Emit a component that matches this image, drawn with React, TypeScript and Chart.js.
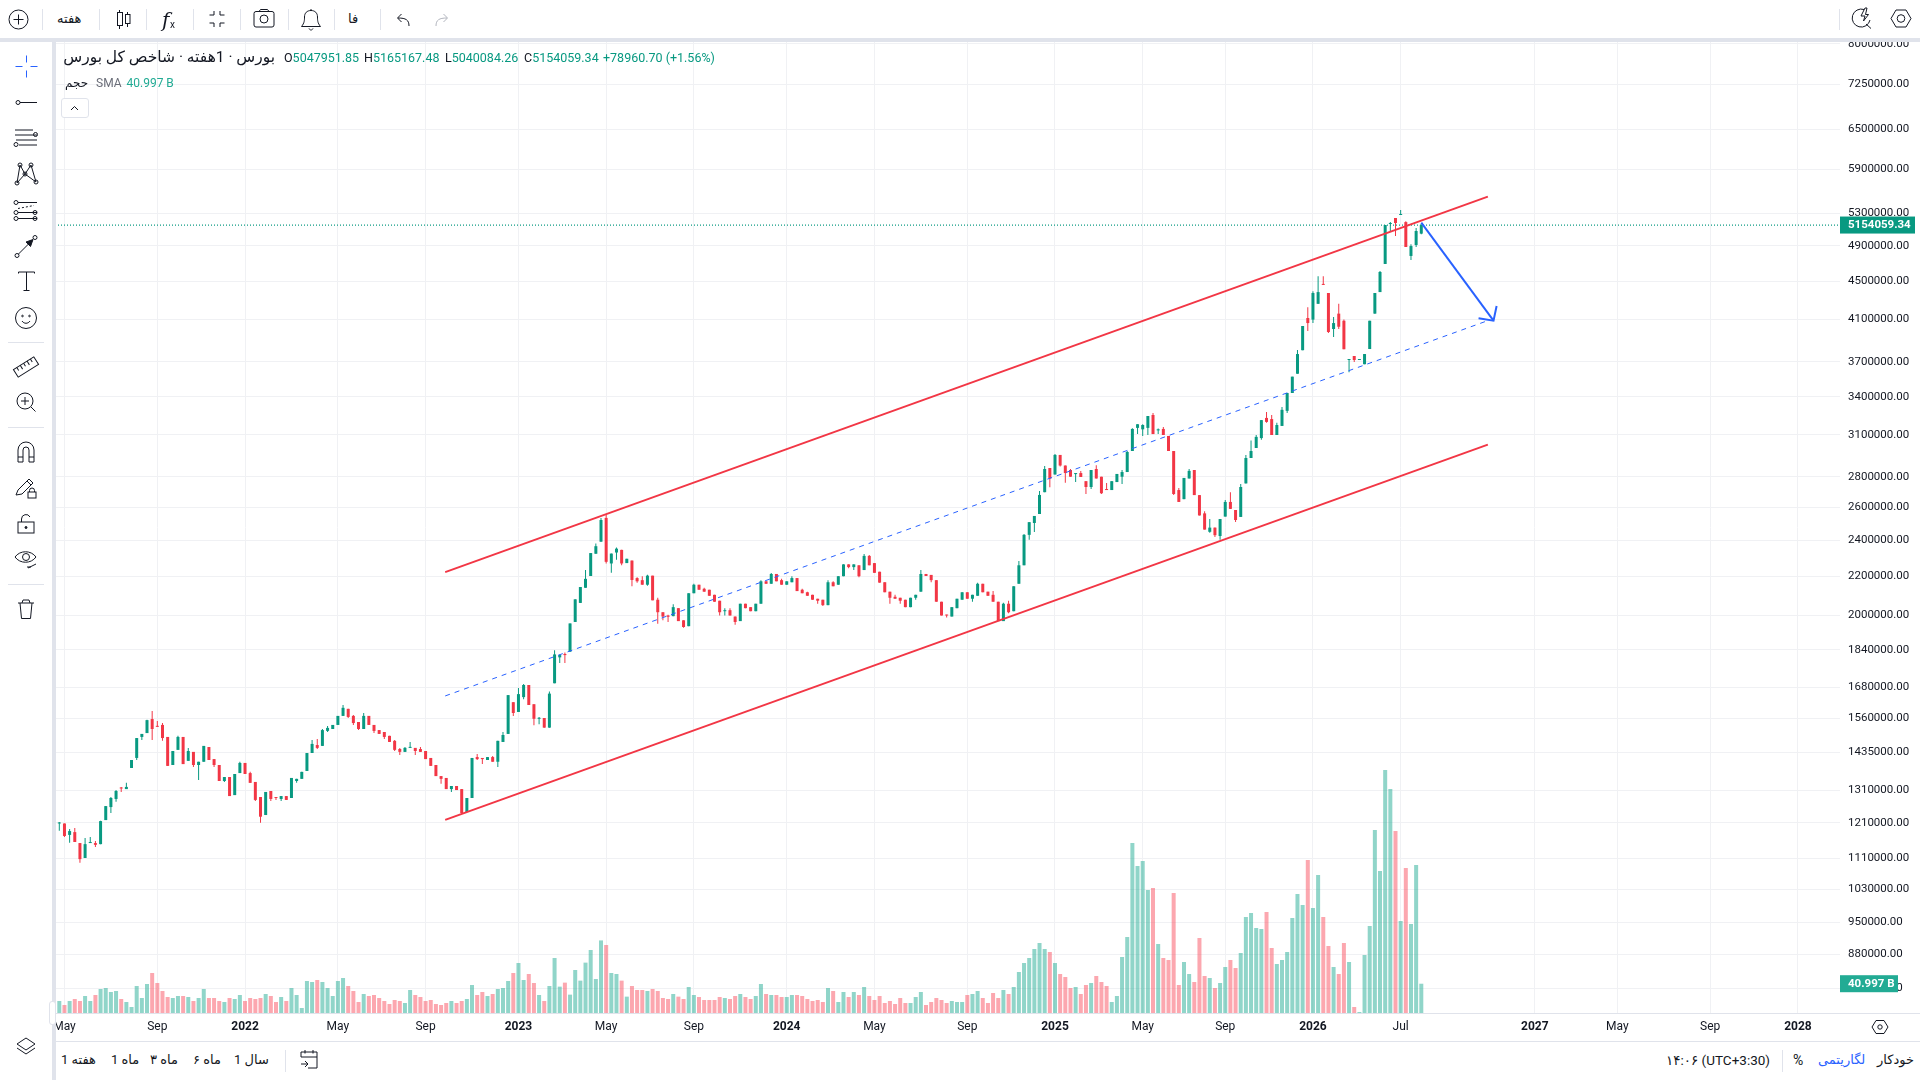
import { useEffect, useRef } from "react";
import Chart from "chart.js/auto";

// ─── Data ─────────────────────────────────────────────────────────────────────
// weekly candles in thousands of index points
const opens = [
  1208,1208,1175,1183,1152,1111,1152,1152,1149,1218,
  1257,1282,1318,1313,1382,1416,1490,1504,1556,1530,
  1534,1490,1392,1444,1490,1406,1437,1392,1403,1454,
  1412,1392,1339,1352,1294,1365,1399,1365,1336,1288,
  1233,1307,1288,1282,1291,1285,1339,1346,1372,1433,
  1461,1458,1512,1519,1534,1568,1595,1568,1545,1519,
  1568,1534,1515,1508,1494,1476,1447,1437,1451,1451,
  1447,1440,1416,1392,1355,1349,1313,1323,1313,1242,
  1285,1419,1416,1409,1419,1403,1472,1501,1621,1583,
  1641,1690,1613,1557,1560,1524,1697,1807,1822,1832,
  1969,2062,2139,2201,2323,2392,2534,2269,2330,2345,
  2271,2285,2190,2179,2155,2203,2078,2016,2000,1997,
  2036,1977,1949,2111,2155,2134,2129,2103,2073,2021,
  2026,1995,1973,2058,2041,2021,2058,2173,2160,2212,
  2179,2155,2168,2190,2129,2116,2103,2083,2078,2051,
  2168,2155,2200,2264,2249,2259,2233,2311,2271,2224,
  2168,2119,2093,2088,2078,2041,2088,2119,2212,2207,
  2179,2068,2004,1995,2036,2078,2116,2083,2098,2160,
  2119,2103,2068,1973,2058,2021,2160,2259,2432,2503,
  2558,2697,2860,2815,2952,2877,2846,2818,2825,2770,
  2731,2853,2800,2718,2711,2764,2800,2832,2980,3152,
  3141,3152,3252,3133,3144,3091,2980,2711,2652,2788,
  2846,2678,2562,2450,2475,2425,2542,2634,2583,2540,
  2755,2930,3002,3075,3229,3220,3098,3167,3285,3430,
  3594,3805,4114,4098,4258,4468,4371,4006,4158,4087,
  3716,3752,3716,3678,3816,4158,4381,4690,5167,5243,
  5281,5191,4782,4911,5047.95185,
];
const highs = [
  1212,1208,1192,1195,1152,1166,1169,1158,1216,1260,
  1288,1310,1320,1333,1409,1486,1501,1553,1587,1549,
  1541,1490,1440,1494,1490,1451,1437,1403,1458,1454,
  1412,1392,1352,1352,1362,1403,1399,1369,1336,1288,
  1304,1307,1288,1291,1291,1349,1346,1369,1433,1479,
  1483,1519,1530,1534,1568,1610,1595,1571,1545,1579,
  1568,1534,1515,1508,1494,1479,1451,1454,1472,1451,
  1454,1440,1416,1392,1355,1349,1323,1323,1313,1285,
  1416,1430,1416,1419,1423,1476,1508,1649,1621,1678,
  1694,1690,1613,1564,1560,1664,1838,1820,1828,1962,
  2080,2143,2234,2327,2382,2534,2553,2324,2358,2345,
  2295,2285,2194,2200,2208,2203,2088,2016,2004,2056,
  2036,1977,2111,2160,2155,2139,2129,2103,2073,2036,
  2036,1995,2058,2058,2041,2058,2179,2173,2217,2212,
  2186,2173,2200,2190,2134,2119,2103,2083,2078,2179,
  2173,2200,2264,2264,2264,2259,2321,2316,2271,2224,
  2168,2119,2103,2088,2078,2088,2103,2234,2212,2207,
  2179,2068,2004,2041,2083,2116,2116,2103,2166,2160,
  2119,2122,2068,2063,2073,2147,2282,2437,2508,2546,
  2705,2873,2860,2958,2952,2877,2853,2825,2840,2770,
  2846,2879,2800,2757,2770,2819,2846,2980,3150,3180,
  3180,3244,3267,3148,3159,3091,2980,2724,2792,2853,
  2846,2678,2575,2527,2475,2527,2646,2697,2583,2751,
  2952,3057,3098,3212,3275,3252,3191,3316,3430,3569,
  3808,4035,4222,4391,4553,4553,4371,4124,4258,4098,
  3725,3752,3725,3770,4087,4371,4610,5155,5191,5243,
  5345,5203,4921,5117,5165.16748,
];
const lows = [
  1187,1169,1153,1155,1098,1111,1152,1141,1149,1218,
  1239,1273,1304,1313,1382,1409,1479,1504,1479,1527,
  1476,1389,1392,1444,1395,1406,1385,1342,1403,1409,
  1385,1339,1336,1291,1294,1365,1362,1333,1276,1210,
  1233,1276,1279,1276,1279,1285,1333,1346,1372,1433,
  1447,1458,1508,1519,1534,1568,1560,1534,1515,1519,
  1534,1504,1501,1483,1472,1440,1426,1437,1451,1426,
  1437,1412,1389,1355,1330,1313,1304,1310,1239,1242,
  1285,1409,1395,1409,1403,1385,1472,1501,1568,1583,
  1633,1610,1533,1537,1524,1524,1697,1783,1783,1832,
  1969,2062,2139,2201,2323,2392,2269,2219,2290,2259,
  2271,2147,2166,2155,2150,2075,1960,1977,1969,1997,
  1973,1941,1949,2111,2129,2119,2098,2068,2000,2000,
  2000,1956,1973,2036,2021,2021,2058,2160,2160,2173,
  2155,2155,2168,2122,2111,2098,2078,2058,2047,2051,
  2147,2155,2200,2243,2233,2195,2233,2259,2218,2166,
  2116,2058,2083,2058,2041,2041,2078,2119,2201,2168,
  2068,2000,1990,1995,2036,2078,2083,2068,2098,2116,
  2098,2068,1973,1973,2011,2021,2160,2259,2403,2449,
  2558,2697,2729,2815,2870,2759,2800,2764,2798,2685,
  2718,2788,2685,2711,2711,2764,2751,2832,2980,3105,
  3091,3098,3105,3105,3098,2980,2678,2634,2652,2788,
  2678,2549,2463,2444,2419,2403,2542,2590,2509,2540,
  2755,2930,3002,3063,3191,3098,3098,3167,3268,3430,
  3594,3805,3987,4064,4258,4458,3967,3929,4006,3814,
  3608,3699,3716,3678,3816,4158,4381,4690,5068,5019,
  5281,4887,4736,4887,5040.08426,
];
const closes = [
  1210,1172,1186,1155,1108,1149,1155,1147,1215,1260,
  1285,1307,1315,1320,1409,1486,1501,1552,1519,1527,
  1486,1389,1440,1490,1395,1440,1392,1403,1458,1409,
  1392,1339,1352,1291,1362,1399,1362,1333,1279,1228,
  1304,1282,1285,1291,1279,1349,1346,1369,1433,1465,
  1451,1515,1523,1534,1568,1599,1564,1541,1519,1568,
  1534,1512,1501,1490,1472,1444,1437,1451,1454,1440,
  1437,1412,1389,1355,1346,1313,1323,1310,1239,1285,
  1416,1412,1412,1419,1403,1476,1497,1649,1579,1653,
  1690,1610,1557,1560,1524,1655,1820,1817,1817,1962,
  2080,2143,2186,2327,2366,2521,2278,2324,2352,2269,
  2295,2180,2173,2155,2203,2075,2016,1995,1994,2041,
  1973,1945,2111,2155,2129,2119,2098,2068,2016,2026,
  2000,1969,2058,2036,2021,2058,2173,2160,2212,2173,
  2155,2173,2190,2122,2111,2098,2078,2073,2051,2168,
  2147,2200,2264,2249,2264,2200,2311,2259,2218,2166,
  2116,2088,2083,2073,2041,2088,2103,2212,2201,2179,
  2068,2000,2000,2041,2083,2116,2083,2103,2160,2116,
  2098,2068,1973,2058,2016,2147,2259,2432,2508,2546,
  2679,2853,2788,2952,2877,2825,2800,2825,2798,2731,
  2846,2788,2690,2711,2770,2819,2832,2973,3144,3180,
  3174,3244,3105,3141,3098,2980,2685,2634,2792,2840,
  2678,2549,2463,2475,2430,2527,2634,2590,2521,2731,
  2930,2980,3084,3212,3198,3098,3174,3293,3430,3569,
  3770,4035,4064,4371,4381,4458,3977,4064,4028,3814,
  3725,3716,3725,3770,4087,4371,4600,5155,5179,5179,
  5294,4887,4898,5080,5154.05934,
];
// weekly volume in billions
const volumes = [
  16.8,11.2,16.8,19.6,16.8,23.8,16.8,25.2,33.6,35,
  29.4,30.8,19.6,15.4,8.4,37.8,21,40.6,56,42,
  30.8,22.4,21,23.8,23.8,22.4,16.8,21,33.6,21,
  21,16.8,15.4,21,19.6,25.2,16.8,21,19.6,21,
  26.6,23.8,15.4,22.4,16.8,35,25.2,7,44.8,43.4,
  46.2,43.4,35,23.8,44.8,49,37.8,30.8,15.4,26.6,
  23.8,25.2,21,16.8,12.6,18.2,16.8,14,32.2,25.2,
  22.4,16.8,18.2,12.6,11.2,14,16.8,14,16.8,19.6,
  39.2,25.2,29.4,23.8,26.6,33.6,35,44.8,56,70,
  46.2,54.6,42,25.2,16.8,37.8,77,36.9,42.5,25.7,
  60.2,45.3,70.5,88.2,47.6,101.6,95.2,56,54.6,45.3,
  22.9,37.8,32.2,32.2,30.8,33.6,30.8,21,19.6,26.6,
  22.9,19.6,36.4,25.2,22.4,18.2,18.2,18.2,22.4,21,
  19.6,23.8,26.6,22.4,19.6,23.8,40.6,26.6,25.2,25.2,
  22.4,22.4,25.2,25.2,23.8,19.6,16.8,18.2,15.4,35,
  30.8,15.4,29.4,22.4,29.4,25.2,36.4,23.8,18.2,23.8,
  14,16.8,12.6,21,14,14,22.4,29.4,11.2,15.4,
  21,18.2,14,16.8,15.4,15.4,25.2,26.6,30.8,21,
  14,28,21,32.2,26.6,36.4,57.4,70,77,89.6,
  98,89.6,85.4,70,54.6,50.4,35,36.4,26.6,39.2,
  42,51.8,43.4,37.8,15.4,23.8,78.4,106.4,238,205.8,
  212.8,172.2,175,96.6,77,74.2,168,39.2,71.4,54.6,
  43.4,105,51.8,49,35,42,64.4,74.2,63,84,
  134.4,140,119,117.6,141.4,91,68.6,74.2,85.4,133,
  166.6,151.2,214.2,147,193.2,134.4,93.8,64.4,54.6,98,
  71.4,8.4,1.4,81.2,121.8,256.2,198.8,340.2,313.6,254.8,
  128.8,203,124.6,207.2,40.997,
];

const priceTicks = [
  8000000,7250000,6500000,5900000,5300000,4900000,4500000,4100000,3700000,3400000,
  3100000,2800000,2600000,2400000,2200000,2000000,1840000,1680000,1560000,1435000,
  1310000,1210000,1110000,1030000,950000,880000,810000,
];
// time axis: bar index of each label
const timeTicks = [1,19,36,54,71,89,106,123,141,158,176,193,210,226,243,260,286,302,320,337];
const timeLabels = ["May","Sep","2022","May","Sep","2023","May","Sep","2024","May","Sep","2025","May","Sep","2026","Jul","2027","May","Sep","2028"];

// drawings, [bar index, price] at each end
const upperChannel = [[74.8,2222000],[276.9,5521000]];
const lowerChannel = [[74.8,1218600],[276.9,3026600]];
const middleChannel = [[74.8,1645700],[276.9,4088000]];
const arrowShaft = [[264,5184000],[278,4088000]];
const arrowHead = [[275.1,4112000],[278,4088000],[278.6,4235000]];

const lastClose = closes[closes.length - 1] * 1000;
const lastVolume = volumes[volumes.length - 1];

const GREEN = "#089981";
const RED = "#F23645";
const BLUE = "#2962FF";
const FONT = "Roboto, 'DejaVu Sans', sans-serif";
const TEXT = "#131722";
const BAND = "#E0E3EB";

const isUp = (i: number) => closes[i] >= opens[i];
const toPoints = (rows: number[][]) => rows.map(([x, y]) => ({ x, y }));

// ─── Price / volume tags on the right axis ────────────────────────────────────
const tagPlugin = {
  id: "axisTags",
  afterDraw(chart: any) {
    const { ctx, chartArea, scales } = chart;
    const drawTag = (y: number, w: number, fill: string, label: string, font: string) => {
      ctx.save();
      ctx.fillStyle = fill;
      ctx.fillRect(chartArea.right, y - 8.5, w, 17);
      ctx.fillStyle = "#FFFFFF";
      ctx.font = font;
      ctx.textAlign = "left";
      ctx.textBaseline = "middle";
      ctx.fillText(label, chartArea.right + 8, y + 0.5);
      ctx.restore();
    };
    drawTag(scales.y.getPixelForValue(lastClose), 75, GREEN, lastClose.toFixed(2), `bold 11.5px ${FONT}`);
    drawTag(scales.yVol.getPixelForValue(lastVolume), 58, "#22AB94", `${lastVolume.toFixed(3)} B`, `bold 11.5px ${FONT}`);
  },
};

// ─── Toolbar text + icons ─────────────────────────────────────────────────────
function Txt({ x, y, children, size = 12.5, color = TEXT, weight = 400 }: any) {
  return (
    <span dir="ltr" style={{ position: "absolute", left: x, top: y, fontSize: size, color, fontWeight: weight, lineHeight: "16px", whiteSpace: "nowrap" }}>
      {children}
    </span>
  );
}

function Sep({ x, top = 9, height = 21 }: any) {
  return <div style={{ position: "absolute", left: x, top, width: 1, height, background: BAND }} />;
}

function HSep({ y }: any) {
  return <div style={{ position: "absolute", left: 8, top: y, width: 36, height: 1, background: BAND }} />;
}

function Icons() {
  const s = { fill: "none", stroke: TEXT, strokeWidth: 1 };
  return (
    <svg width={1920} height={1080} style={{ position: "absolute", left: 0, top: 0, pointerEvents: "none" }}>
      {/* top bar */}
      <g {...s} transform="translate(18.5,19.5)"><circle r={9.5} /><path d="M-5 0H5M0 -5V5" /></g>
      <g {...s}>
        <path d="M119.5 10V12M119.5 25V29M127.5 12V14M127.5 23V27" />
        <rect x={117.5} y={12.5} width={5} height={13} />
        <rect x={125.5} y={14.5} width={4.5} height={9} />
      </g>
      <text x={162} y={27} fontFamily="'DejaVu Serif', serif" fontStyle="italic" fontSize={20} fill={TEXT}>f</text>
      <text x={170} y={28} fontFamily={FONT} fontSize={10} fill={TEXT}>x</text>
      <g {...s} transform="translate(217,19)">
        <path d="M-3 -8V-4H-7.5M3 -8V-4H7.5M-3 8V4H-7.5M3 8V4H7.5" />
      </g>
      <g {...s} transform="translate(264,19)">
        <rect x={-10} y={-7.5} width={20} height={15.5} rx={2} />
        <circle r={4} />
        <path d="M-5 -7.5L-3.5 -9.5H3.5L5 -7.5" />
      </g>
      <g {...s} transform="translate(311,19)">
        <path d="M-9.5 7.5C-6.5 4 -6.5 1 -6.5 -2C-6.5 -6 -4 -8.5 0 -8.5C4 -8.5 6.5 -6 6.5 -2C6.5 1 6.5 4 9.5 7.5Z" />
        <path d="M-2 9.5C-1 11.5 1 11.5 2 9.5" />
        <path d="M0 -8.5V-10" />
      </g>
      <g fill="none" stroke={TEXT} strokeWidth={1} transform="translate(403,19)">
        <path d="M6 7C6 1 3 -1 -5 -1M-1.5 -5L-5.5 -1L-1.5 3" />
      </g>
      <g fill="none" stroke="#B2B5BE" strokeWidth={1} transform="translate(442,19)">
        <path d="M-6 7C-6 1 -3 -1 5 -1M1.5 -5L5.5 -1L1.5 3" />
      </g>
      <g {...s} transform="translate(1862,18)">
        <path d="M2 -8.5A9 9 0 1 0 8 2M4 6L9 10.5" />
        <path d="M3 -10L-1 -2H3L1.5 3L6.5 -3.5H3.5L5 -10Z" />
      </g>
      <g {...s} transform="translate(1901,18.5)">
        <path d="M-10 0L-5 -8.5H5L10 0L5 8.5H-5Z" /><circle r={3.8} />
      </g>

      {/* left bar */}
      <g fill="none" stroke={BLUE} strokeWidth={1} transform="translate(26.5,66.5)">
        <path d="M-11 0H-4M4 0H11M0 -11V-4M0 4V11" />
      </g>
      <g {...s} transform="translate(26,102.5)"><circle cx={-8} r={2} /><path d="M-6 0H11" /></g>
      <g {...s} transform="translate(26,137.5)">
        <path d="M-11 -7.5H7M-11 -2.5H11M-7 7.5H11M-10 2.5H11" /><circle cx={9.5} cy={-3} r={2} /><circle cx={-10} cy={7} r={2} />
      </g>
      <g {...s} transform="translate(26,174)">
        <path d="M-9 9L-6 -9L-1 0L5 -9L10 8L-1 0L-9 9" />
        <circle cx={-9} cy={9} r={2} /><circle cx={-6} cy={-9} r={2} /><circle cx={-1} cy={0} r={2} /><circle cx={5} cy={-9} r={2} /><circle cx={10} cy={8} r={2} />
      </g>
      <g {...s} transform="translate(26,211.5)">
        <path d="M-8 -9H11M-8 7H11M-8 1H11" /><path d="M-8 -3L8 -6" strokeDasharray="2 2" />
        <circle cx={-10} cy={-9} r={2} /><circle cx={-10} cy={1} r={2} /><circle cx={-10} cy={7} r={2} /><circle cx={9} cy={1} r={2} /><circle cx={9} cy={7} r={2} />
      </g>
      <g {...s} transform="translate(26,246.5)">
        <circle cx={-9} cy={9} r={2} /><circle cx={9} cy={-9} r={2} /><path d="M-7.5 7.5L5 -5" />
        <path d="M7 -7L0 -4.5L4.5 0Z" fill={TEXT} />
      </g>
      <g {...s} transform="translate(26.5,281.5)"><path d="M-8 -8V-9.5H8V-8M0 -9.5V9M-3 9H3" /></g>
      <g {...s} transform="translate(26,318)">
        <circle r={10.5} /><circle cx={-3.5} cy={-2} r={0.8} /><circle cx={3.5} cy={-2} r={0.8} /><path d="M-4 3C-2 6 2 6 4 3" />
      </g>
      <g {...s} transform="translate(26,367) rotate(-32)">
        <rect x={-12} y={-4.5} width={24} height={9} />
        <path d="M-8 -4.5V-1M-4 -4.5V0M0 -4.5V-1M4 -4.5V0M8 -4.5V-1" />
      </g>
      <g {...s} transform="translate(26,402)">
        <circle cx={-1} cy={-1} r={8} /><path d="M-5 -1H3M-1 -5V3M5 5L9.5 9.5" />
      </g>
      <g {...s} transform="translate(26,452)">
        <path d="M-8 10V-2A8 8 0 0 1 8 -2V10H3V-2A3 3 0 0 0 -3 -2V10ZM-8 5H-3M3 5H8" />
      </g>
      <g {...s} transform="translate(26,488)">
        <path d="M-10 7L-8 2L3 -9L7 -5L-4 6Z" /><path d="M1 -7L5 -3" />
        <rect x={2} y={4} width={8} height={6} /><path d="M3.5 4V2.5A2.5 2.5 0 0 1 8.5 2.5V4" />
      </g>
      <g {...s} transform="translate(26,524)">
        <rect x={-8} y={-2} width={16} height={11} /><path d="M-4.5 -2V-5A4.5 4.5 0 0 1 4 -7" /><circle cy={3.5} r={1} fill={TEXT} />
      </g>
      <g {...s} transform="translate(26,559)">
        <path d="M-11 -2C-6 -9 5 -9 10 -2C5 5 -6 5 -11 -2Z" /><circle cy={-2} r={3.5} /><path d="M2 9L10 5M1 8L5 8" />
      </g>
      <g {...s} transform="translate(26,609)">
        <path d="M-8 -6H8M-6 -6L-4.5 9.5H4.5L6 -6M-4 -6L-3 -9H3L4 -6" />
      </g>
      <g {...s} transform="translate(26,1046)">
        <path d="M0 -8L9 -2L0 4L-9 -2Z" /><path d="M-9 2L0 8L9 2" />
      </g>

      {/* legend collapse chevron */}
      <path d="M71 110L74.5 106.5L78 110" fill="none" stroke={TEXT} strokeWidth={1} />
      {/* time axis gear */}
      <g {...s} transform="translate(1880,1027)">
        <path d="M-8 0L-4 -6.5H4L8 0L4 6.5H-4Z" /><circle r={2.2} />
      </g>
      {/* calendar */}
      <g {...s} transform="translate(309,1060)">
        <path d="M-8 -3V-8H8V8H-1M-8 -3H8M-4 -10V-6.5M4 -10V-6.5M-8 4H-1M-4 1L-1 4L-4 7" />
      </g>
    </svg>
  );
}

// ─── Component ────────────────────────────────────────────────────────────────
export default function App() {
  const canvasRef = useRef<HTMLCanvasElement | null>(null);

  useEffect(() => {
    if (!canvasRef.current) return;
    const idx = opens.map((_, i) => i);
    const lineBase = { type: "line", xAxisID: "x", yAxisID: "y", pointRadius: 0, tension: 0, fill: false };
    const chart = new Chart(canvasRef.current, {
      type: "bar",
      data: {
        datasets: [
          {
            label: "Volume",
            yAxisID: "yVol",
            data: idx.map((i) => ({ x: i, y: volumes[i] })),
            backgroundColor: idx.map((i) => (isUp(i) ? "rgba(34,171,148,0.5)" : "rgba(250,80,95,0.5)")),
            barThickness: 4,
            inflateAmount: 0,
            grouped: false,
            order: 9,
          },
          {
            ...lineBase,
            label: "Last",
            data: [{ x: -2, y: lastClose }, { x: 346, y: lastClose }],
            borderColor: GREEN,
            borderWidth: 1.3,
            borderDash: [1, 2],
            order: 8,
          },
          {
            label: "Wicks",
            yAxisID: "y",
            data: idx.map((i) => ({ x: i, y: [lows[i] * 1000, highs[i] * 1000] })),
            backgroundColor: idx.map((i) => (isUp(i) ? GREEN : RED)),
            barThickness: 1,
            inflateAmount: 0,
            grouped: false,
            order: 7,
          },
          {
            label: "Bodies",
            yAxisID: "y",
            data: idx.map((i) => ({ x: i, y: [opens[i] * 1000, closes[i] * 1000] })),
            backgroundColor: idx.map((i) => (isUp(i) ? GREEN : RED)),
            barThickness: 3,
            minBarLength: 1,
            inflateAmount: 0,
            grouped: false,
            order: 6,
          },
          { ...lineBase, label: "Mid", data: toPoints(middleChannel), borderColor: BLUE, borderWidth: 1, borderDash: [5, 5], order: 5 },
          { ...lineBase, label: "Upper", data: toPoints(upperChannel), borderColor: RED, borderWidth: 2, order: 4 },
          { ...lineBase, label: "Lower", data: toPoints(lowerChannel), borderColor: RED, borderWidth: 2, order: 3 },
          { ...lineBase, label: "Arrow", data: toPoints(arrowShaft), borderColor: BLUE, borderWidth: 2, order: 2 },
          { ...lineBase, label: "Head", data: toPoints(arrowHead), borderColor: BLUE, borderWidth: 2, order: 1 },
        ] as any,
      },
      options: {
        responsive: false,
        animation: false,
        events: [],
        layout: { padding: 0 },
        plugins: { legend: { display: false }, tooltip: { enabled: false } },
        scales: {
          x: {
            type: "linear",
            min: -0.64,
            max: 345.16,
            offset: false,
            afterBuildTicks: (scale: any) => { scale.ticks = timeTicks.map((value) => ({ value })); },
            // first/last tick labels must not push the plot area in
            afterFit: (scale: any) => { scale.height = 28; scale.paddingLeft = 0; scale.paddingRight = 0; },
            grid: { color: "#F0F1F4", drawTicks: false, offset: false },
            border: { display: false },
            ticks: {
              autoSkip: false,
              maxRotation: 0,
              minRotation: 0,
              padding: 7,
              color: TEXT,
              font: (ctx: any) => ({ family: FONT, size: 12, weight: /^\d/.test(timeLabels[ctx.index] || "") ? 700 : 400 }),
              callback: (_v: any, i: number) => timeLabels[i],
            },
          },
          y: {
            type: "logarithmic",
            position: "right",
            min: 763000,
            max: 8033000,
            afterBuildTicks: (scale: any) => { scale.ticks = priceTicks.map((value) => ({ value })); },
            afterFit: (scale: any) => { scale.width = 80; scale.paddingTop = 0; scale.paddingBottom = 0; },
            grid: { color: "#F0F1F4", drawTicks: false },
            border: { display: false },
            ticks: {
              autoSkip: false,
              padding: 8,
              color: TEXT,
              font: { family: FONT, size: 11.5 },
              callback: (v: any) => Number(v).toFixed(2),
            },
          },
          yVol: { type: "linear", display: false, min: 0, max: 1359.4 },
        },
      } as any,
      plugins: [tagPlugin],
    });
    return () => chart.destroy();
  }, []);

  return (
    <>
      <style>{`
        html, body { margin: 0; padding: 0; background: #FFFFFF; overflow: hidden; }
      `}</style>
      <div style={{ position: "relative", width: 1920, height: 1080, background: "#FFFFFF", fontFamily: FONT, overflow: "hidden" }}>
        {/* Chart */}
        <canvas ref={canvasRef} width={1864} height={999} style={{ position: "absolute", left: 56, top: 42, width: 1864, height: 999 }} />

        {/* Frame */}
        <div style={{ position: "absolute", left: 0, top: 38, width: 1920, height: 4, background: BAND }} />
        <div style={{ position: "absolute", left: 52, top: 38, width: 4, height: 1042, background: BAND }} />
        <div style={{ position: "absolute", left: 56, top: 1013, width: 1864, height: 1, background: BAND }} />
        <div style={{ position: "absolute", left: 56, top: 1041, width: 1864, height: 1, background: BAND }} />
        <div style={{ position: "absolute", left: 49, top: 1001, width: 7, height: 24, background: "#FFFFFF", border: `1px solid ${BAND}`, borderRadius: 3, boxSizing: "border-box" }} />

        {/* Top bar */}
        <Sep x={42} /><Sep x={99} /><Sep x={146} /><Sep x={193} /><Sep x={240} /><Sep x={288} /><Sep x={334} /><Sep x={380} /><Sep x={1839} />
        <Txt x={57} y={11} size={13} weight={500}>هفته</Txt>
        <Txt x={348} y={11} size={13} weight={500}>فا</Txt>

        {/* Left bar separators */}
        <HSep y={342} /><HSep y={427} /><HSep y={584} />

        {/* Legend */}
        <div dir="rtl" style={{ position: "absolute", left: 65, top: 49, width: 210, textAlign: "left", fontSize: 15.5, color: TEXT, lineHeight: "16px", whiteSpace: "nowrap" }}>
          بورس · 1هفته · شاخص کل بورس
        </div>
        <Txt x={284} y={50}>O<span style={{ color: GREEN }}>5047951.85</span></Txt>
        <Txt x={364} y={50}>H<span style={{ color: GREEN }}>5165167.48</span></Txt>
        <Txt x={445} y={50}>L<span style={{ color: GREEN }}>5040084.26</span></Txt>
        <Txt x={524} y={50}>C<span style={{ color: GREEN }}>5154059.34</span></Txt>
        <Txt x={603} y={50} color={GREEN}>+78960.70 (+1.56%)</Txt>
        <Txt x={65} y={75} size={12}>حجم</Txt>
        <Txt x={96} y={75} size={12} color="#6A6D78">SMA</Txt>
        <Txt x={126.5} y={75} size={12} color="#22AB94">40.997 B</Txt>
        <div style={{ position: "absolute", left: 60.5, top: 98, width: 28, height: 20, boxSizing: "border-box", border: `1px solid ${BAND}`, borderRadius: 3, background: "#FFFFFF" }} />

        {/* Bottom bar */}
        <Txt x={61} y={1052} size={13}>1 هفته</Txt>
        <Txt x={111} y={1052} size={13}>1 ماه</Txt>
        <Txt x={150} y={1052} size={13}>۳ ماه</Txt>
        <Txt x={193} y={1052} size={13}>۶ ماه</Txt>
        <Txt x={234} y={1052} size={13}>1 سال</Txt>
        <Sep x={285} top={1050} height={22} />
        <Txt x={1666} y={1052} size={13.5}>۱۴:۰۶ (UTC+3:30)</Txt>
        <Sep x={1782} top={1050} height={22} />
        <Txt x={1793} y={1052} size={14}>%</Txt>
        <Txt x={1818} y={1052} size={13} color={BLUE}>لگاریتمی</Txt>
        <Txt x={1877} y={1052} size={13}>خودکار</Txt>

        <Icons />
      </div>
    </>
  );
}
